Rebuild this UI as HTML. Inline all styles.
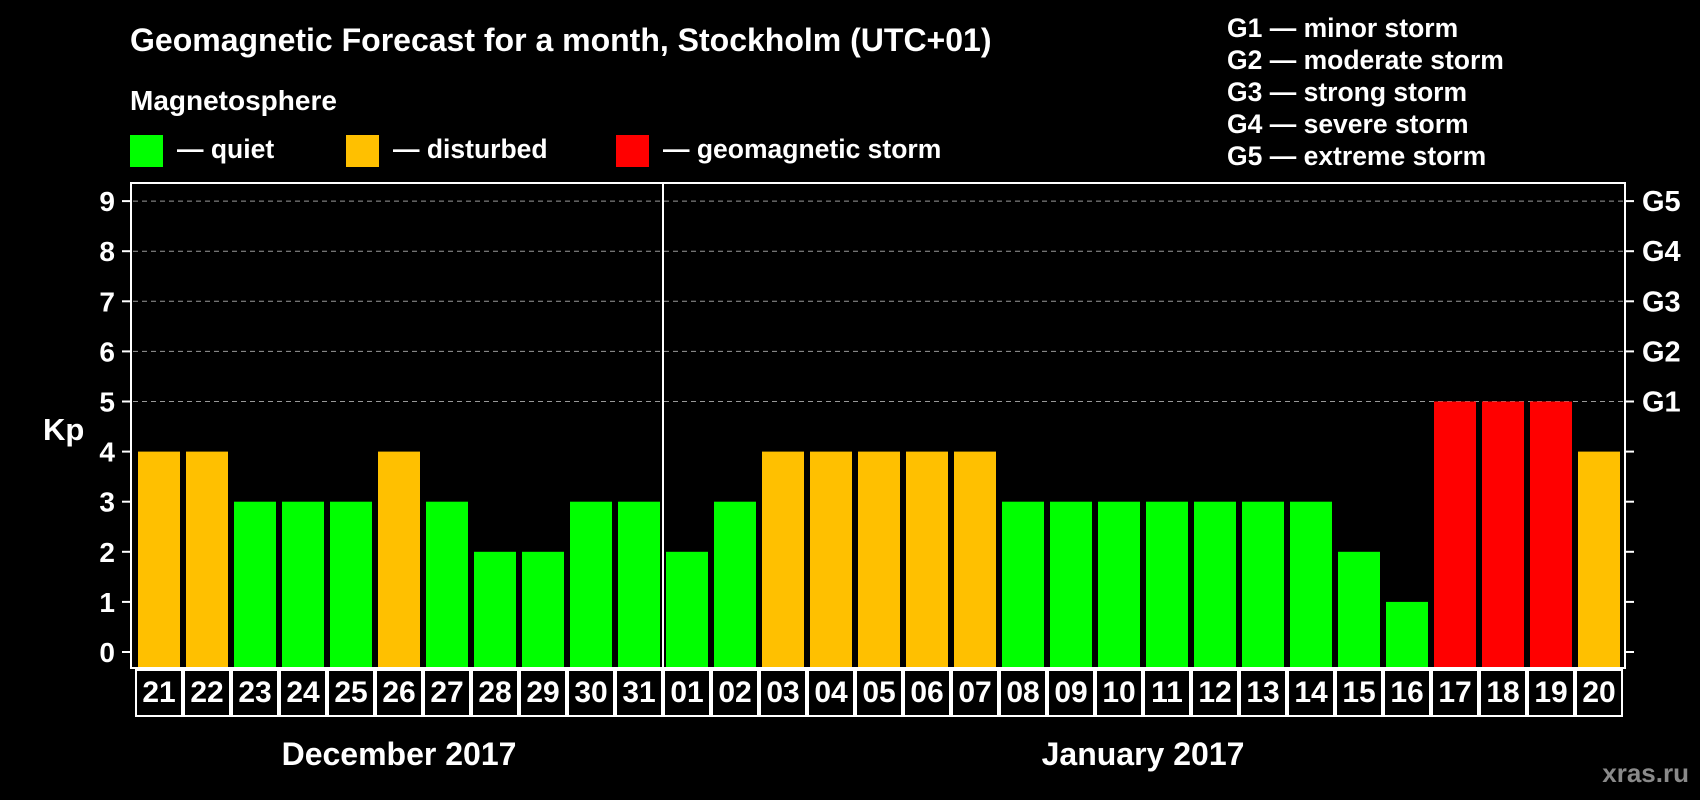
<!DOCTYPE html>
<html><head><meta charset="utf-8"><style>
html,body{margin:0;padding:0;background:#000;}
svg{display:block;font-family:"Liberation Sans",Arial,sans-serif;font-weight:bold;}
</style></head><body>
<svg id="chart" width="1700" height="800" viewBox="0 0 1700 800">
<rect width="1700" height="800" fill="#000"/>
<text x="130" y="51" font-size="32" fill="#fff">Geomagnetic Forecast for a month, Stockholm (UTC+01)</text>
<text x="130" y="110" font-size="28" fill="#fff">Magnetosphere</text>
<g><rect x="130" y="135" width="33" height="32" fill="#00ff00"/><text x="177" y="158" font-size="26.5" fill="#fff">— quiet</text></g>
<g><rect x="346" y="135" width="33" height="32" fill="#ffc000"/><text x="393" y="158" font-size="26.5" fill="#fff">— disturbed</text></g>
<g><rect x="616" y="135" width="33" height="32" fill="#ff0000"/><text x="663" y="158" font-size="26.5" fill="#fff">— geomagnetic storm</text></g>
<g font-size="26.5" fill="#fff">
<text x="1227" y="37">G1 — minor storm</text>
<text x="1227" y="69">G2 — moderate storm</text>
<text x="1227" y="101">G3 — strong storm</text>
<text x="1227" y="133">G4 — severe storm</text>
<text x="1227" y="165">G5 — extreme storm</text>
</g>
<text x="43" y="440" font-size="31" fill="#fff">Kp</text>
<text x="1689" y="782" font-size="26" fill="#8a8a8a" text-anchor="end">xras.ru</text>
<g id="grid"></g><g id="bars"></g><g id="axes"></g><g id="cells"></g>
</svg>
<script>
const days = ["21","22","23","24","25","26","27","28","29","30","31","01","02","03","04","05","06","07","08","09","10","11","12","13","14","15","16","17","18","19","20"];
const kpValues = [4,4,3,3,3,4,3,2,2,3,3,2,3,4,4,4,4,4,3,3,3,3,3,3,3,2,1,5,5,5,4];
const yTicks = [0,1,2,3,4,5,6,7,8,9];
const stormLabels = ["","","","","","G1","G2","G3","G4","G5"];
const months = ["December 2017","January 2017"];
const monthStart = [0,11];

const NS="http://www.w3.org/2000/svg";
const L=131,R=1625,T=183,B=668,Y0=652,UNIT=50.1,X0=135,STEP=48;
const y=v=>Y0-v*UNIT;
const xCell=i=>X0+i*STEP;
function mk(tag,attrs,parent,text){const e=document.createElementNS(NS,tag);for(const k in attrs)e.setAttribute(k,attrs[k]);if(text!==undefined)e.textContent=text;document.getElementById(parent).appendChild(e);return e;}
const color=v=>v>=5?"#ff0000":(v>=4?"#ffc000":"#00ff00");

yTicks.forEach((t,i)=>{
  if(t>=5){const g=mk("line",{x1:L+2,x2:R-2,y1:y(t),y2:y(t),stroke:"#999","stroke-width":1,"stroke-dasharray":"5,4"},"grid");
  
  }
  const tl=mk("line",{x1:L-9,x2:L,y1:y(t),y2:y(t),stroke:"#fff","stroke-width":2},"axes");
  
  
  const tr=mk("line",{x1:R,x2:R+9,y1:y(t),y2:y(t),stroke:"#fff","stroke-width":2},"axes");
  
  
  const lb=mk("text",{x:115,y:y(t)+10,"font-size":28,fill:"#fff","text-anchor":"end"},"axes",String(t));
  
  
  if(stormLabels[i]){const s=mk("text",{x:1642,y:y(t)+10,"font-size":29,fill:"#fff"},"axes",stormLabels[i]);
  
  }
});

kpValues.forEach((v,i)=>{
  const b=mk("rect",{x:xCell(i)+3,y:y(v),width:42,height:B-y(v),fill:color(v)},"bars");
  
  
});

const box=mk("rect",{x:L,y:T,width:R-L,height:B-T,fill:"none",stroke:"#fff","stroke-width":2},"axes");



days.forEach((d,i)=>{
  const c=mk("rect",{x:xCell(i)+1,y:670,width:STEP-2,height:46,fill:"none",stroke:"#fff","stroke-width":2},"cells");
  
  
  const t=mk("text",{x:xCell(i)+STEP/2,y:702,"font-size":30,fill:"#fff","text-anchor":"middle"},"cells",d);
  
  
});

const sep=mk("line",{x1:xCell(monthStart[1]),x2:xCell(monthStart[1]),y1:T,y2:717,stroke:"#fff","stroke-width":2},"cells");



months.forEach((m,k)=>{
  const s=monthStart[k],e=k+1<monthStart.length?monthStart[k+1]:days.length;
  const cx=(xCell(s)+xCell(e))/2;
  const t=mk("text",{x:cx,y:765,"font-size":32,fill:"#fff","text-anchor":"middle"},"cells",m);
  
  
});
</script>
</body></html>
